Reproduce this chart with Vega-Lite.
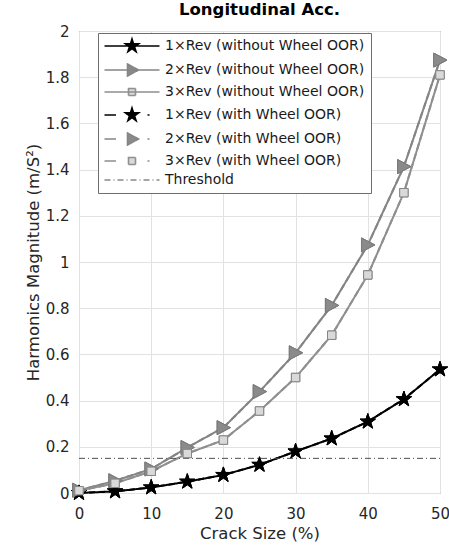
{
  "$schema": "https://vega.github.io/schema/vega-lite/v6.json",
  "width": 361,
  "height": 462,
  "autosize": "none",
  "padding": {"left": 79, "top": 31, "right": 9, "bottom": 57},
  "background": "white",
  "title": {"text": "Longitudinal Acc.", "fontSize": 16.5, "fontWeight": "bold", "font": "DejaVu Sans", "color": "#000000", "offset": 6, "anchor": "middle"},
  "config": {
    "font": "DejaVu Sans",
    "view": {"stroke": "#6e6e6e", "strokeWidth": 1},
    "axis": {"grid": true, "gridColor": "#e2e2e2", "gridWidth": 1, "domain": false, "ticks": false, "labelFont": "DejaVu Sans", "labelFontSize": 15, "labelColor": "#262626", "titleFont": "DejaVu Sans", "titleFontSize": 16.5, "titleFontWeight": "normal", "titleColor": "#262626"}
  },
  "data": {"values": [
    {"series": "1×Rev (without Wheel OOR)", "crack": 0, "mag": 0},
    {"series": "1×Rev (without Wheel OOR)", "crack": 5, "mag": 0.007},
    {"series": "1×Rev (without Wheel OOR)", "crack": 10, "mag": 0.024},
    {"series": "1×Rev (without Wheel OOR)", "crack": 15, "mag": 0.049},
    {"series": "1×Rev (without Wheel OOR)", "crack": 20, "mag": 0.078},
    {"series": "1×Rev (without Wheel OOR)", "crack": 25, "mag": 0.122},
    {"series": "1×Rev (without Wheel OOR)", "crack": 30, "mag": 0.18},
    {"series": "1×Rev (without Wheel OOR)", "crack": 35, "mag": 0.236},
    {"series": "1×Rev (without Wheel OOR)", "crack": 40, "mag": 0.309},
    {"series": "1×Rev (without Wheel OOR)", "crack": 45, "mag": 0.406},
    {"series": "1×Rev (without Wheel OOR)", "crack": 50, "mag": 0.535},
    {"series": "2×Rev (without Wheel OOR)", "crack": 0, "mag": 0.012},
    {"series": "2×Rev (without Wheel OOR)", "crack": 5, "mag": 0.053},
    {"series": "2×Rev (without Wheel OOR)", "crack": 10, "mag": 0.104},
    {"series": "2×Rev (without Wheel OOR)", "crack": 15, "mag": 0.197},
    {"series": "2×Rev (without Wheel OOR)", "crack": 20, "mag": 0.283},
    {"series": "2×Rev (without Wheel OOR)", "crack": 25, "mag": 0.439},
    {"series": "2×Rev (without Wheel OOR)", "crack": 30, "mag": 0.607},
    {"series": "2×Rev (without Wheel OOR)", "crack": 35, "mag": 0.812},
    {"series": "2×Rev (without Wheel OOR)", "crack": 40, "mag": 1.074},
    {"series": "2×Rev (without Wheel OOR)", "crack": 45, "mag": 1.413},
    {"series": "2×Rev (without Wheel OOR)", "crack": 50, "mag": 1.874},
    {"series": "3×Rev (without Wheel OOR)", "crack": 0, "mag": 0.01},
    {"series": "3×Rev (without Wheel OOR)", "crack": 5, "mag": 0.042},
    {"series": "3×Rev (without Wheel OOR)", "crack": 10, "mag": 0.094},
    {"series": "3×Rev (without Wheel OOR)", "crack": 15, "mag": 0.171},
    {"series": "3×Rev (without Wheel OOR)", "crack": 20, "mag": 0.229},
    {"series": "3×Rev (without Wheel OOR)", "crack": 25, "mag": 0.355},
    {"series": "3×Rev (without Wheel OOR)", "crack": 30, "mag": 0.5},
    {"series": "3×Rev (without Wheel OOR)", "crack": 35, "mag": 0.683},
    {"series": "3×Rev (without Wheel OOR)", "crack": 40, "mag": 0.944},
    {"series": "3×Rev (without Wheel OOR)", "crack": 45, "mag": 1.3},
    {"series": "3×Rev (without Wheel OOR)", "crack": 50, "mag": 1.81},
    {"series": "1×Rev (with Wheel OOR)", "crack": 0, "mag": 0},
    {"series": "1×Rev (with Wheel OOR)", "crack": 5, "mag": 0.007},
    {"series": "1×Rev (with Wheel OOR)", "crack": 10, "mag": 0.024},
    {"series": "1×Rev (with Wheel OOR)", "crack": 15, "mag": 0.049},
    {"series": "1×Rev (with Wheel OOR)", "crack": 20, "mag": 0.078},
    {"series": "1×Rev (with Wheel OOR)", "crack": 25, "mag": 0.122},
    {"series": "1×Rev (with Wheel OOR)", "crack": 30, "mag": 0.18},
    {"series": "1×Rev (with Wheel OOR)", "crack": 35, "mag": 0.236},
    {"series": "1×Rev (with Wheel OOR)", "crack": 40, "mag": 0.309},
    {"series": "1×Rev (with Wheel OOR)", "crack": 45, "mag": 0.406},
    {"series": "1×Rev (with Wheel OOR)", "crack": 50, "mag": 0.535},
    {"series": "2×Rev (with Wheel OOR)", "crack": 0, "mag": 0.012},
    {"series": "2×Rev (with Wheel OOR)", "crack": 5, "mag": 0.053},
    {"series": "2×Rev (with Wheel OOR)", "crack": 10, "mag": 0.104},
    {"series": "2×Rev (with Wheel OOR)", "crack": 15, "mag": 0.197},
    {"series": "2×Rev (with Wheel OOR)", "crack": 20, "mag": 0.283},
    {"series": "2×Rev (with Wheel OOR)", "crack": 25, "mag": 0.439},
    {"series": "2×Rev (with Wheel OOR)", "crack": 30, "mag": 0.607},
    {"series": "2×Rev (with Wheel OOR)", "crack": 35, "mag": 0.812},
    {"series": "2×Rev (with Wheel OOR)", "crack": 40, "mag": 1.074},
    {"series": "2×Rev (with Wheel OOR)", "crack": 45, "mag": 1.413},
    {"series": "2×Rev (with Wheel OOR)", "crack": 50, "mag": 1.874},
    {"series": "3×Rev (with Wheel OOR)", "crack": 0, "mag": 0.01},
    {"series": "3×Rev (with Wheel OOR)", "crack": 5, "mag": 0.042},
    {"series": "3×Rev (with Wheel OOR)", "crack": 10, "mag": 0.094},
    {"series": "3×Rev (with Wheel OOR)", "crack": 15, "mag": 0.171},
    {"series": "3×Rev (with Wheel OOR)", "crack": 20, "mag": 0.229},
    {"series": "3×Rev (with Wheel OOR)", "crack": 25, "mag": 0.355},
    {"series": "3×Rev (with Wheel OOR)", "crack": 30, "mag": 0.5},
    {"series": "3×Rev (with Wheel OOR)", "crack": 35, "mag": 0.683},
    {"series": "3×Rev (with Wheel OOR)", "crack": 40, "mag": 0.944},
    {"series": "3×Rev (with Wheel OOR)", "crack": 45, "mag": 1.3},
    {"series": "3×Rev (with Wheel OOR)", "crack": 50, "mag": 1.81},
    {"series": "Threshold", "crack": 0, "mag": 0.15},
    {"series": "Threshold", "crack": 50, "mag": 0.15}
  ]},
  "encoding": {
    "x": {"field": "crack", "type": "quantitative", "scale": {"domain": [0, 50], "nice": false}, "axis": {"values": [0, 10, 20, 30, 40, 50], "title": "Crack Size (%)", "labelPadding": 13, "titlePadding": 4, "labelFlush": false}},
    "y": {"field": "mag", "type": "quantitative", "scale": {"domain": [0, 2], "nice": false}, "axis": {"values": [0, 0.2, 0.4, 0.6, 0.8, 1, 1.2, 1.4, 1.6, 1.8, 2], "labelExpr": "format(datum.value, '~g')", "title": "Harmonics Magnitude (m/S²)", "labelPadding": 10, "titlePadding": 4, "labelFlush": false}}
  },
  "layer": [
    {
      "transform": [{"filter": "datum.series != 'Threshold'"}],
      "mark": {"type": "line", "strokeWidth": 2},
      "encoding": {
        "color": {"field": "series", "type": "nominal",
          "scale": {"domain": ["1×Rev (without Wheel OOR)", "2×Rev (without Wheel OOR)", "3×Rev (without Wheel OOR)", "1×Rev (with Wheel OOR)", "2×Rev (with Wheel OOR)", "3×Rev (with Wheel OOR)", "Threshold"],
                    "range": ["#000000", "#858585", "#8f8f8f", "#000000", "#858585", "#8f8f8f", "#4d4d4d"]},
          "legend": {
            "title": null, "orient": "none", "legendX": 19, "legendY": 2,
            "fillColor": "white", "strokeColor": "#6e6e6e", "padding": 6,
            "labelFont": "DejaVu Sans", "labelFontSize": 14, "labelColor": "#1a1a1a", "labelLimit": 400,
            "symbolSize": 100, "symbolOffset": 21, "labelOffset": 26, "rowPadding": 5,
            "symbolStrokeWidth": 2,
            "encode": {"symbols": {"update": {
              "shape": {"signal": "datum.value == '1×Rev (without Wheel OOR)' ? 'M-5.5,0H5.5M0,-1.4L0.31,-0.43L1.33,-0.43L0.51,0.17L0.82,1.13L0,0.53L-0.82,1.13L-0.51,0.17L-1.33,-0.43L-0.31,-0.43Z' : datum.value == '2×Rev (without Wheel OOR)' ? 'M-5.5,0H5.5M-0.9,-1.2L1.3,0L-0.9,1.2Z' : datum.value == '3×Rev (without Wheel OOR)' ? 'M-5.5,0H5.5M-0.7,-0.7H0.7V0.7H-0.7Z' : datum.value == '1×Rev (with Wheel OOR)' ? 'M-5.5,0H-3.2M3.1,0H3.5M0,-1.4L0.31,-0.43L1.33,-0.43L0.51,0.17L0.82,1.13L0,0.53L-0.82,1.13L-0.51,0.17L-1.33,-0.43L-0.31,-0.43Z' : datum.value == '2×Rev (with Wheel OOR)' ? 'M-5.5,0H-3.2M3.1,0H3.5M-0.9,-1.2L1.3,0L-0.9,1.2Z' : datum.value == '3×Rev (with Wheel OOR)' ? 'M-5.5,0H-3.2M3.1,0H3.5M-0.7,-0.7H0.7V0.7H-0.7Z' : 'M-5.5,0H5.5'"},
              "fill": {"signal": "indexof(datum.value, '1×') == 0 ? '#000000' : indexof(datum.value, '2×') == 0 ? '#8a8a8a' : indexof(datum.value, '3×') == 0 ? '#d9d9d9' : 'transparent'"},
              "strokeDash": {"signal": "datum.value == 'Threshold' ? [6, 3, 1, 3] : [1, 0]"},
              "strokeWidth": {"signal": "datum.value == 'Threshold' ? 1 : 1.6"},
              "opacity": {"value": 1}
            }}}
          }
        },
        "strokeDash": {"field": "series", "type": "nominal",
          "scale": {"domain": ["1×Rev (without Wheel OOR)", "2×Rev (without Wheel OOR)", "3×Rev (without Wheel OOR)", "1×Rev (with Wheel OOR)", "2×Rev (with Wheel OOR)", "3×Rev (with Wheel OOR)"],
                    "range": [[1, 0], [1, 0], [1, 0], [6, 4], [6, 4], [6, 4]]},
          "legend": null}
      }
    },
    {
      "transform": [{"filter": "datum.series == 'Threshold'"}],
      "mark": {"type": "line", "strokeWidth": 1, "strokeDash": [6, 3, 1, 3]},
      "encoding": {
        "color": {"field": "series", "type": "nominal"}
      }
    },
    {
      "transform": [{"filter": "datum.series != 'Threshold'"}],
      "mark": {"type": "point", "filled": true, "size": 196, "strokeWidth": 1, "opacity": 1},
      "encoding": {
        "shape": {"field": "series", "type": "nominal",
          "scale": {"domain": ["1×Rev (without Wheel OOR)", "2×Rev (without Wheel OOR)", "3×Rev (without Wheel OOR)", "1×Rev (with Wheel OOR)", "2×Rev (with Wheel OOR)", "3×Rev (with Wheel OOR)"],
                    "range": ["M0,-1.15L0.26,-0.36L1.09,-0.36L0.42,0.14L0.68,0.93L0,0.44L-0.68,0.93L-0.42,0.14L-1.09,-0.36L-0.26,-0.36Z", "M-0.9,-1L1,0L-0.9,1Z", "M-0.6,-0.6H0.6V0.6H-0.6Z", "M0,-1.15L0.26,-0.36L1.09,-0.36L0.42,0.14L0.68,0.93L0,0.44L-0.68,0.93L-0.42,0.14L-1.09,-0.36L-0.26,-0.36Z", "M-0.9,-1L1,0L-0.9,1Z", "M-0.6,-0.6H0.6V0.6H-0.6Z"]},
          "legend": null},
        "fill": {"field": "series", "type": "nominal",
          "scale": {"domain": ["1×Rev (without Wheel OOR)", "2×Rev (without Wheel OOR)", "3×Rev (without Wheel OOR)", "1×Rev (with Wheel OOR)", "2×Rev (with Wheel OOR)", "3×Rev (with Wheel OOR)"],
                    "range": ["#000000", "#8a8a8a", "#d9d9d9", "#000000", "#8a8a8a", "#d9d9d9"]},
          "legend": null},
        "stroke": {"field": "series", "type": "nominal",
          "scale": {"domain": ["1×Rev (without Wheel OOR)", "2×Rev (without Wheel OOR)", "3×Rev (without Wheel OOR)", "1×Rev (with Wheel OOR)", "2×Rev (with Wheel OOR)", "3×Rev (with Wheel OOR)"],
                    "range": ["#000000", "#7a7a7a", "#858585", "#000000", "#7a7a7a", "#858585"]},
          "legend": null}
      }
    }
  ]
}
